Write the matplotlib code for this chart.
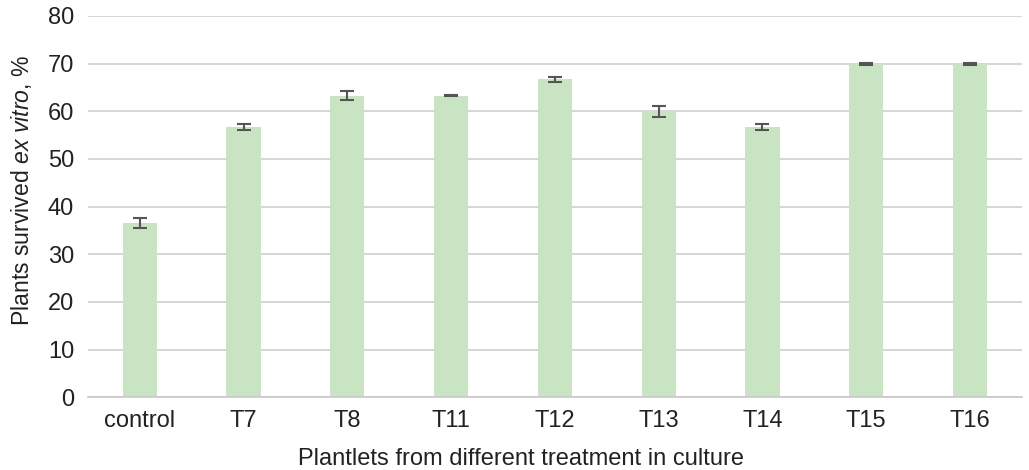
import matplotlib.pyplot as plt
import numpy as np

plt.rcParams['font.family'] = ['Liberation Sans', 'DejaVu Sans']
plt.rcParams['mathtext.fontset'] = 'custom'
plt.rcParams['mathtext.rm'] = 'Liberation Sans'
plt.rcParams['mathtext.it'] = 'Liberation Sans:italic'

# data
grupos = ["control", "T7", "T8", "T11", "T12", "T13", "T14", "T15", "T16"]
sobrevivencia = [36.5, 56.7, 63.3, 63.3, 66.7, 60.0, 56.7, 70.0, 70.0]
error = [1.0, 0.6, 0.9, 0.15, 0.5, 1.2, 0.6, 0.2, 0.2]

fig = plt.figure(figsize=(10.29, 4.70), dpi=100)
ax = fig.add_axes([0.0855, 0.155, 0.9075, 0.811])

x = np.arange(len(grupos))
ax.bar(x, sobrevivencia, width=0.33, color="#c9e4c3", zorder=2)
ax.errorbar(x, sobrevivencia, yerr=error, fmt="none", ecolor="#555555",
            elinewidth=1.5, capsize=5, capthick=1.5, zorder=3)

ax.set_ylim(0, 80)
ax.set_xlim(-0.5, len(grupos) - 0.5)
ax.set_yticks(range(0, 81, 10))
ax.set_xticks(x)
ax.set_xticklabels(grupos)
ax.yaxis.grid(True, color="#d0d0d0", linewidth=1.2, zorder=0)
ax.set_axisbelow(True)
for s in ["top", "right", "left"]:
    ax.spines[s].set_visible(False)
ax.spines["bottom"].set_color("#c8c8c8")
ax.spines["bottom"].set_linewidth(1.2)
ax.tick_params(axis="y", length=0, labelsize=17, colors="#222222", pad=10)
ax.tick_params(axis="x", length=0, labelsize=17, colors="#222222", pad=9)

ax.set_ylabel("Plants survived $\\it{ex\\ vitro}$, %", fontsize=16.6, color="#222222")
ax.set_xlabel("Plantlets from different treatment in culture", fontsize=17,
              color="#222222")
ax.yaxis.set_label_coords(-0.058, 0.543)
ax.xaxis.set_label_coords(0.4636, -0.134)

fig.savefig("out.png", dpi=100)
